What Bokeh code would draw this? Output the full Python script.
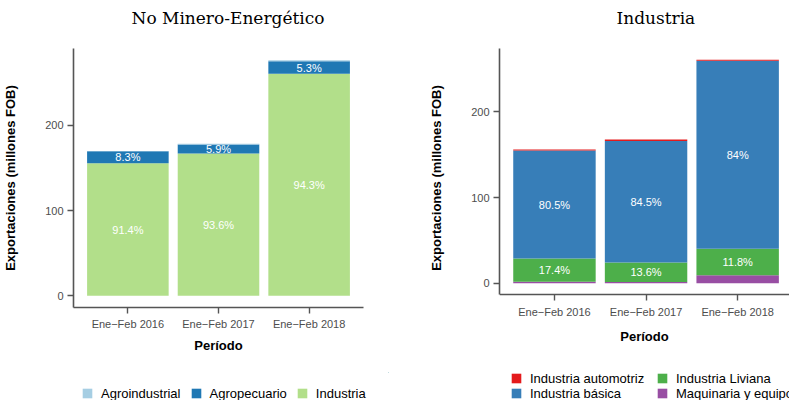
from bokeh.plotting import figure
from bokeh.layouts import row, column
from bokeh.models import (ColumnDataSource, Range1d, FixedTicker, Legend, LegendItem, Title,
                          LinearAxis)
from bokeh.core.properties import value
from bokeh.embed import file_html
from bokeh.resources import INLINE

# ---------------- data ----------------
periods = ["Ene\u2212Feb 2016", "Ene\u2212Feb 2017", "Ene\u2212Feb 2018"]
xpos = [1, 2, 3]

# No Minero-Energético (millones FOB)
nme_industria = [155.4, 167.0, 260.6]
nme_agropecuario = [14.1, 10.5, 14.6]
nme_agroindustrial = [0.5, 0.9, 1.2]

# Industria (millones FOB)
ind_maquinaria = [1.8, 1.4, 9.5]
ind_liviana = [27.2, 22.8, 30.9]
ind_basica = [125.8, 141.7, 219.1]
ind_automotriz = [1.4, 1.8, 1.3]

left_names = ["Industria", "Agropecuario", "Agroindustrial"]          # bottom -> top
left_colors = ["#B2DF8A", "#1F78B4", "#A6CEE3"]
right_names = ["Maquinaria y equipo", "Industria Liviana", "Industria básica", "Industria automotriz"]
right_colors = ["#984EA3", "#4DAF4A", "#377EB8", "#E41A1C"]

FONT = "Liberation Sans"
AXIS_COL = "#555555"
TICK_COL = "#4D4D4D"
TOP_H = 372            # height of the chart row
FRAME_H = 259          # frame height in px (top border 48, bottom border 65)


def fmt(p):
    return f"{round(p, 1):g}%"


def style_axis(ax):
    ax.axis_line_color = AXIS_COL
    ax.axis_line_width = 1.6
    ax.major_tick_line_color = AXIS_COL
    ax.major_tick_line_width = 1.4
    ax.major_tick_in = 0
    ax.major_tick_out = 6
    ax.minor_tick_line_color = None
    ax.major_label_text_font = FONT
    ax.major_label_text_font_size = "11px"
    ax.major_label_text_color = TICK_COL
    ax.axis_label_text_font = FONT
    ax.axis_label_text_font_size = "13px"
    ax.axis_label_text_font_style = "bold"
    ax.axis_label_text_color = "black"


def make_panel(title, colors, series, width, mb, xend, title_offset, raise_px):
    keys = [f"s{i}" for i in range(len(series))]
    data = {"x": xpos}
    for k, s in zip(keys, series):
        data[k] = s
    src = ColumnDataSource(data)
    totals = [sum(v) for v in zip(*series)]
    ymax = max(totals)
    ylo, yhi = -0.05 * ymax, 1.05 * ymax
    scale = (FRAME_H - raise_px) / (yhi - ylo)
    ystart = ylo - raise_px / scale
    p = figure(width=width, height=TOP_H, output_backend="svg", toolbar_location=None,
               x_range=Range1d(0.4, xend), y_range=Range1d(ystart, yhi),
               min_border_left=mb[0], min_border_right=mb[1], min_border_top=48,
               min_border_bottom=TOP_H - 48 - FRAME_H)
    p.vbar_stack(keys, x="x", width=0.9, fill_color=colors, line_color=None, source=src)

    # percentage labels
    lx, ly, lt = [], [], []
    for j in range(len(xpos)):
        base = 0.0
        for s in series:
            v = s[j]
            pct = v / totals[j] * 100
            if pct >= 5:
                lx.append(xpos[j])
                ly.append(base + v / 2)
                lt.append(fmt(pct))
            base += v
    p.text(x=lx, y=ly, text=lt, text_align="center", text_baseline="middle",
           text_color="white", text_font=value(FONT), text_font_size="11px")

    # spacer between frame and title
    p.add_layout(Title(text=" ", text_font_size="15px", standoff=0), "above")
    p.title.text = title
    p.title.align = "left"
    p.title.offset = title_offset
    p.title.text_font = "DejaVu Serif"
    p.title.text_font_size = "17px"
    p.title.text_font_style = "normal"
    p.title.text_color = "black"
    p.title.standoff = 4

    p.xgrid.visible = False
    p.ygrid.visible = False
    p.outline_line_color = None
    p.background_fill_color = "white"

    p.xaxis.ticker = FixedTicker(ticks=xpos)
    p.yaxis.ticker = FixedTicker(ticks=[0, 100, 200])
    p.yaxis.bounds = (ylo, yhi)
    style_axis(p.xaxis[0])
    style_axis(p.yaxis[0])
    p.yaxis.axis_label = "Exportaciones (millones FOB)"
    p.yaxis.major_label_standoff = 4
    p.yaxis.axis_label_standoff = 24
    if raise_px:
        # axis line + ticks drawn at the bottom of the data area
        xa = p.xaxis[0]
        xa.fixed_location = ylo
        xa.major_label_overrides = {x: "" for x in xpos}
        # tick labels in the panel below
        lab_ax = LinearAxis(ticker=FixedTicker(ticks=xpos),
                            major_label_overrides={x: lab for x, lab in zip(xpos, periods)})
        style_axis(lab_ax)
        lab_ax.axis_line_color = None
        lab_ax.major_tick_line_color = None
        lab_ax.major_tick_out = 0
        lab_ax.major_label_standoff = -2
        p.add_layout(lab_ax, "below")
        p.add_layout(Title(text="Período", align="center", text_font=FONT,
                           text_font_size="13px", text_font_style="bold",
                           text_color="black", standoff=12), "below")
    else:
        p.xaxis.major_label_overrides = {x: lab for x, lab in zip(xpos, periods)}
        p.xaxis.major_label_standoff = 4
        p.xaxis.axis_label = "Período"
        p.xaxis.axis_label_standoff = 5
    return p


def make_legend_fig(width, mb, names, colors, series, groups):
    lf = figure(width=width, height=400 - TOP_H, output_backend="svg", toolbar_location=None,
                x_range=Range1d(-30, -29), y_range=Range1d(-30, -29),
                x_axis_location=None, y_axis_location=None,
                min_border_left=mb[0], min_border_right=mb[1], min_border_top=0,
                min_border_bottom=0)
    lf.xgrid.visible = False
    lf.ygrid.visible = False
    lf.outline_line_color = None
    # legend keys (their bars lie far outside the visible range of this strip)
    rs = [lf.vbar(x=xpos, top=s, bottom=0, width=0.9, fill_color=c, line_color=None)
          for s, c in zip(series, colors)]
    for idx, orient, loc, spacing, standoff in groups:
        lg = Legend(items=[LegendItem(label=names[i], renderers=[rs[i]]) for i in idx],
                    orientation=orient, location=loc)
        try:
            lg.spacing = spacing
        except Exception:
            lg.spacing = 0
        lg.border_line_color = None
        lg.background_fill_alpha = 0
        lg.padding = 0
        lg.margin = 0
        lg.label_text_font = FONT
        lg.label_text_font_size = "13px"
        lg.label_text_line_height = 1.0
        lg.label_text_color = "black"
        lg.label_height = 12
        lg.glyph_width = 12
        lg.glyph_height = 12
        lg.label_standoff = standoff
        lf.add_layout(lg)
    return lf


p1 = make_panel("No Minero-Energético", left_colors,
                [nme_industria, nme_agropecuario, nme_agroindustrial],
                418, (71, 55), 3.6, 58, 0)
p2 = make_panel("Industria", right_colors,
                [ind_maquinaria, ind_liviana, ind_basica, ind_automotriz],
                371, (81, 0), 3.566, 117, 13)

l1 = make_legend_fig(418, (71, 30), left_names, left_colors,
                     [nme_industria, nme_agropecuario, nme_agroindustrial],
                     [((2, 1, 0), "horizontal", (10, -0.8), 9, 8)])
l2 = make_legend_fig(371, (81, 0), right_names, right_colors,
                     [ind_maquinaria, ind_liviana, ind_basica, ind_automotriz],
                     [((3, 2), "vertical", (11, -0.8), -2, 8),
                      ((1, 0), "vertical", (157, -0.8), -2, 8)])

layout = column(row(p1, p2), row(l1, l2))
open("out.html", "w").write(file_html(layout, INLINE))
